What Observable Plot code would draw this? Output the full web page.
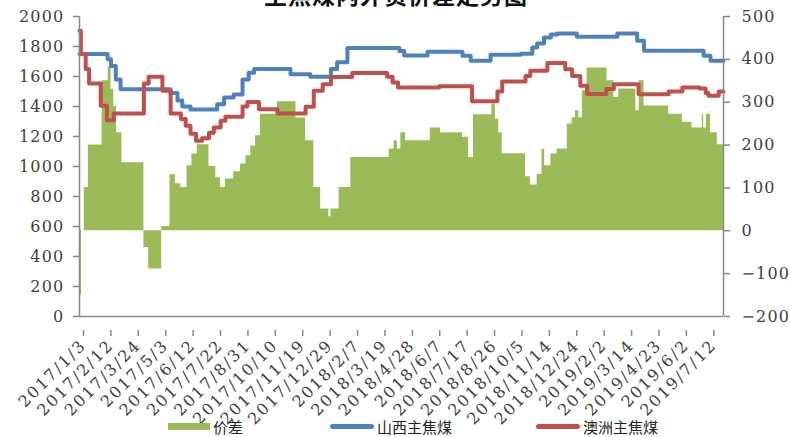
<!DOCTYPE html>
<html>
<head>
<meta charset="utf-8">
<script src="https://cdn.jsdelivr.net/npm/d3@7"></script>
<script src="https://cdn.jsdelivr.net/npm/@observablehq/plot@0.6"></script>
<style>
  body { margin: 0; background: #fff; }
  #wrap { position: relative; width: 790px; height: 437px; overflow: hidden; background: #fff; }
  #title { position: absolute; left: 0; width: 792px; top: -17px; text-align: center;
           font: bold 23px/1 "Noto Sans CJK SC", sans-serif; letter-spacing: 1px; color: #111; z-index: 2; }
  #legend { position: absolute; left: 0; top: 412px; width: 790px; height: 25px;
            font: 15px/1 "Noto Sans CJK SC", sans-serif; color: #222; }
  .sw { position: absolute; top: 12px; height: 5px; }
  .lb { position: absolute; top: 7px; white-space: nowrap; }
  svg text { letter-spacing: 1.2px; }
  svg g[aria-label="x-axis tick label"] text { letter-spacing: 2px; }
</style>
</head>
<body>
<div id="wrap">
  <div id="chart"></div>
  <div id="title"></div>
  <div id="legend"></div>
</div>
<script>
// ---- data ----
const titleText = "主焦煤内外贸价差走势图";
const seriesNames = ["价差", "山西主焦煤", "澳洲主焦煤"];

const xStart = "2017-01-03";
const xEnd = "2019-08-01";
const xTickDates = ["2017-01-03","2017-02-12","2017-03-24","2017-05-03","2017-06-12","2017-07-22",
  "2017-08-31","2017-10-10","2017-11-19","2017-12-29","2018-02-07","2018-03-19","2018-04-28",
  "2018-06-07","2018-07-17","2018-08-26","2018-10-05","2018-11-14","2018-12-24","2019-02-02",
  "2019-03-14","2019-04-23","2019-06-02","2019-07-12"];
const leftTicks = [0, 200, 400, 600, 800, 1000, 1200, 1400, 1600, 1800, 2000];
const rightTicks = [-200, -100, 0, 100, 200, 300, 400, 500];

// 山西主焦煤 (left axis), values change on these dates
const shanxiDates = ["2017-01-03","2017-02-13","2017-02-18","2017-02-25","2017-03-04","2017-05-16",
  "2017-05-26","2017-06-02","2017-06-14","2017-07-23","2017-08-02","2017-08-16","2017-08-29",
  "2017-09-07","2017-09-15","2017-11-07","2017-12-06","2018-01-05","2018-01-14","2018-01-29",
  "2018-04-15","2018-04-22","2018-05-26","2018-07-16","2018-07-28","2018-08-26","2018-10-09",
  "2018-10-26","2018-11-02","2018-11-12","2018-11-22","2018-12-01","2018-12-30","2019-02-27",
  "2019-03-28","2019-04-07","2019-07-03","2019-07-13","2019-08-01"];
const shanxiPrices = [1750,1715,1670,1580,1515,1490,1440,1400,1380,1415,1460,1480,1580,1625,1650,
  1615,1598,1650,1695,1790,1770,1740,1765,1738,1705,1745,1752,1793,1820,1860,1880,1887,1865,1887,
  1838,1771,1738,1705,1705];

// 澳洲主焦煤 (left axis)
const aozhouDates = ["2017-01-03","2017-01-05","2017-01-12","2017-01-17","2017-02-03","2017-02-12",
  "2017-02-22","2017-04-07","2017-04-14","2017-05-04","2017-05-16","2017-05-31","2017-06-07",
  "2017-06-14","2017-06-22","2017-07-01","2017-07-11","2017-07-18","2017-07-28","2017-08-04",
  "2017-08-29","2017-09-05","2017-09-22","2017-10-19","2017-11-29","2017-12-11","2017-12-24",
  "2018-01-05","2018-02-05","2018-03-28","2018-04-05","2018-04-13","2018-06-12","2018-07-30",
  "2018-09-05","2018-09-12","2018-10-16","2018-10-23","2018-11-17","2018-12-13","2018-12-23",
  "2019-01-04","2019-01-14","2019-02-11","2019-02-22","2019-03-30","2019-05-13","2019-06-02",
  "2019-06-27","2019-07-06","2019-07-10","2019-07-25","2019-08-01"];
const aozhouPrices = [1905,1750,1650,1553,1405,1309,1353,1553,1598,1505,1353,1316,1271,1218,1171,
  1189,1225,1260,1305,1331,1400,1430,1382,1353,1398,1505,1549,1596,1624,1598,1560,1527,1535,1435,
  1500,1566,1604,1638,1690,1649,1604,1538,1484,1516,1549,1482,1500,1527,1520,1490,1471,1500,1500];

// 价差 (right axis)
const spreadDates = ["2017-01-03","2017-01-06","2017-01-10","2017-01-16","2017-02-05","2017-02-14",
  "2017-02-18","2017-02-22","2017-02-26","2017-03-06","2017-04-07","2017-04-14","2017-05-03",
  "2017-05-15","2017-05-23","2017-05-31","2017-06-09","2017-06-16","2017-06-24","2017-07-11",
  "2017-07-21","2017-07-28","2017-08-04","2017-08-16","2017-08-26","2017-09-03","2017-09-10",
  "2017-09-17","2017-09-24","2017-10-19","2017-11-15","2017-11-29","2017-12-11","2017-12-21",
  "2018-01-02","2018-01-05","2018-01-17","2018-02-03","2018-03-31","2018-04-07","2018-04-12",
  "2018-04-17","2018-04-24","2018-05-30","2018-06-14","2018-07-16","2018-07-25","2018-08-01",
  "2018-08-28","2018-09-02","2018-09-07","2018-09-12","2018-10-16","2018-10-23","2018-11-02",
  "2018-11-09","2018-11-13","2018-11-22","2018-12-01","2018-12-16","2018-12-23","2018-12-28",
  "2019-01-02","2019-01-07","2019-01-14","2019-02-12","2019-02-22","2019-03-01","2019-03-26",
  "2019-03-31","2019-04-07","2019-05-13","2019-06-02","2019-06-16","2019-07-01","2019-07-03",
  "2019-07-07","2019-07-13","2019-07-23","2019-08-01"];
const spreadValues = [-150,0,101,200,350,383,330,290,229,159,-39,-89,10,131,110,101,152,179,201,150,
  124,101,121,138,156,175,198,222,272,301,263,210,101,51,33,51,101,171,191,210,191,229,210,240,229,
  218,171,271,296,260,229,180,126,107,132,190,152,179,191,249,264,280,264,327,380,350,311,331,280,
  350,291,272,253,240,272,240,272,229,201,201];

const colors = ["#9BBB59", "#4F81BD", "#C0504D"];

// ---- build ----
const parse = d3.utcParse("%Y-%m-%d");
const rows = (ds, vs) => ds.map((d, i) => ({date: parse(d), value: vs[i]}));
const shanxi = rows(shanxiDates, shanxiPrices);
const aozhou = rows(aozhouDates, aozhouPrices);
const spread = rows(spreadDates, spreadValues);

const L0 = leftTicks[0], L1 = leftTicks[leftTicks.length - 1];
const R0 = rightTicks[0], R1 = rightTicks[rightTicks.length - 1];
const toLeft = r => L0 + (r - R0) * (L1 - L0) / (R1 - R0);
const fromLeft = v => R0 + (v - L0) * (R1 - R0) / (L1 - L0);
const base = toLeft(0);
const x0 = parse(xStart), x1 = parse(xEnd);
const axisColor = "#898989";
const labelColor = "#404040";

const chart = Plot.plot({
  width: 790, height: 412,
  marginTop: 16, marginRight: 67, marginBottom: 96, marginLeft: 79,
  style: {background: "transparent", fontFamily: "DejaVu Serif", fontSize: "16px", color: labelColor, overflow: "visible"},
  x: {type: "utc", domain: [x0, x1]},
  y: {domain: [L0, L1]},
  marks: [
    Plot.area(spread, {x1: "date", y1: () => base, y2: d => toLeft(d.value), curve: "step-after", fill: colors[0]}),
    Plot.line(shanxi, {x: "date", y: "value", curve: "step-after", stroke: colors[1], strokeWidth: 4, strokeLinejoin: "round"}),
    Plot.line(aozhou, {x: "date", y: "value", curve: "step-after", stroke: colors[2], strokeWidth: 4, strokeLinejoin: "round"}),
    Plot.ruleX([x0, x1], {stroke: axisColor, strokeWidth: 1.5}),
    Plot.ruleY([L0], {stroke: axisColor, strokeWidth: 1.5}),
    Plot.axisY(leftTicks, {anchor: "left", label: null, tickSize: 6, tickPadding: 9, stroke: axisColor, strokeWidth: 1.5,
      fill: labelColor, fontSize: 16, tickFormat: d => String(d)}),
    Plot.axisY(rightTicks.map(toLeft), {anchor: "right", label: null, tickSize: 6, tickPadding: 12, stroke: axisColor, strokeWidth: 1.5,
      fill: labelColor, fontSize: 16, tickFormat: v => d3.format("d")(Math.round(fromLeft(v)))}),
    Plot.axisX(xTickDates.map(parse), {label: null, tickFormat: d3.utcFormat("%Y/%-m/%-d"), tickRotate: -45, tickSize: 6,
      tickPadding: 6, dx: 4, dy: 14, stroke: axisColor, strokeWidth: 1.5, fill: labelColor, fontSize: 16})
  ]
});
document.getElementById("chart").appendChild(chart);
document.getElementById("title").textContent = titleText;

// legend
const legend = document.getElementById("legend");
const items = [
  {sw: 168, w: 42, lb: 213, round: false},
  {sw: 330, w: 44, lb: 377, round: true},
  {sw: 536, w: 44, lb: 583, round: true}
];
items.forEach((it, i) => {
  const s = document.createElement("div");
  s.className = "sw";
  s.style.left = it.sw + "px"; s.style.width = it.w + "px"; s.style.background = colors[i];
  if (it.round) s.style.borderRadius = "3px"; else { s.style.height = "7px"; s.style.top = "11px"; }
  legend.appendChild(s);
  const t = document.createElement("div");
  t.className = "lb"; t.style.left = it.lb + "px"; t.textContent = seriesNames[i];
  legend.appendChild(t);
});
</script>
</body>
</html>
